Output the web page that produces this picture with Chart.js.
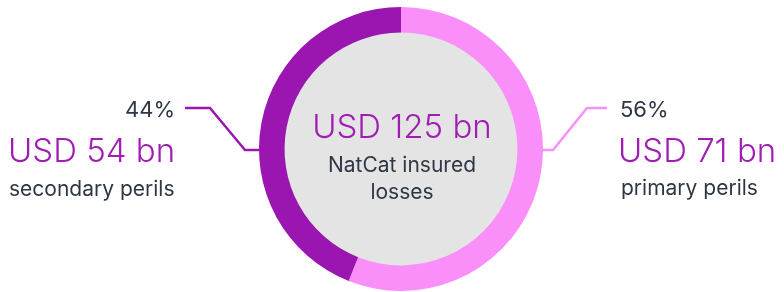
<!DOCTYPE html>
<html>
<head>
<meta charset="utf-8">
<script src="https://cdn.jsdelivr.net/npm/chart.js@4.4.1/dist/chart.umd.min.js"></script>
<style>
  html, body { margin: 0; padding: 0; background: #fff; }
  #wrap { position: relative; width: 784px; height: 292px; font-family: Inter, Roboto, "Noto Sans", sans-serif; }
  #chart { position: absolute; left: 0; top: 0; }
  .lbl { position: absolute; white-space: nowrap; line-height: 1; }
  .pct { font-size: 22px; color: #2e3744; }
  .big { font-size: 33px; font-weight: 300; color: #a01db4; }
  .sub { font-size: 21px; color: #2e3744; }
  .right { text-align: right; }
  .center { text-align: center; }
</style>
</head>
<body>
<div id="wrap">
  <canvas id="chart" width="784" height="292"></canvas>

  <div class="lbl pct right" style="right:609px; top:98px;">44%</div>
  <div class="lbl big" style="left:8px; top:134px;">USD 54 bn</div>
  <div class="lbl sub" style="left:9px; top:178px;">secondary perils</div>

  <div class="lbl pct" style="left:620px; top:98px;">56%</div>
  <div class="lbl big" style="left:618px; top:134px;">USD 71 bn</div>
  <div class="lbl sub" style="left:621px; top:177px;">primary perils</div>

  <div class="lbl big center" style="left:302px; width:200px; top:110px;">USD 125 bn</div>
  <div class="lbl sub center" style="left:302px; width:200px; top:151px; line-height:27px;">NatCat insured<br>losses</div>
</div>

<script>
// Datos del gráfico
const categories = ['primary perils', 'secondary perils'];
const lossesBn = [71, 54];      // USD bn
const sharePct = [56, 44];      // % del total (125 bn)
const colors = ['#fa8ffa', '#9b16b1'];

// Relleno gris del centro y líneas guía
const centerAndLeaders = {
    id: 'centerAndLeaders',
    beforeDatasetsDraw(chart) {
        const arc = chart.getDatasetMeta(0).data[0];
        const { x, y, innerRadius } = arc.getProps(['x', 'y', 'innerRadius'], true);
        const ctx = chart.ctx;
        ctx.save();
        ctx.fillStyle = '#e4e4e4';
        ctx.beginPath();
        ctx.arc(x, y, innerRadius + 1, 0, Math.PI * 2);
        ctx.fill();
        ctx.restore();
    },
    afterDatasetsDraw(chart) {
        const arc = chart.getDatasetMeta(0).data[0];
        const { x, y, outerRadius } = arc.getProps(['x', 'y', 'outerRadius'], true);
        const ctx = chart.ctx;
        ctx.save();
        ctx.lineWidth = 2.5;
        ctx.lineJoin = 'miter';
        // izquierda (secondary)
        ctx.strokeStyle = colors[1];
        ctx.beginPath();
        ctx.moveTo(x - outerRadius + 1, y + 1);
        ctx.lineTo(x - outerRadius - 14, y + 1);
        ctx.lineTo(x - outerRadius - 49, y - 41);
        ctx.lineTo(x - outerRadius - 74, y - 41);
        ctx.stroke();
        // derecha (primary)
        ctx.strokeStyle = colors[0];
        ctx.beginPath();
        ctx.moveTo(x + outerRadius - 1, y + 1);
        ctx.lineTo(x + outerRadius + 10, y + 1);
        ctx.lineTo(x + outerRadius + 44, y - 41);
        ctx.lineTo(x + outerRadius + 64, y - 41);
        ctx.stroke();
        ctx.restore();
    }
};

const ctx = document.getElementById('chart').getContext('2d');
new Chart(ctx, {
    type: 'doughnut',
    data: {
        labels: categories,
        datasets: [{
            data: sharePct,
            backgroundColor: colors,
            borderWidth: 0
        }]
    },
    options: {
        responsive: false,
        animation: false,
        cutout: '82%',
        rotation: 0,
        layout: { padding: { left: 18, right: 0, top: 7, bottom: 1 } },
        plugins: {
            legend: { display: false },
            tooltip: { enabled: false }
        }
    },
    plugins: [centerAndLeaders]
});
</script>
</body>
</html>
